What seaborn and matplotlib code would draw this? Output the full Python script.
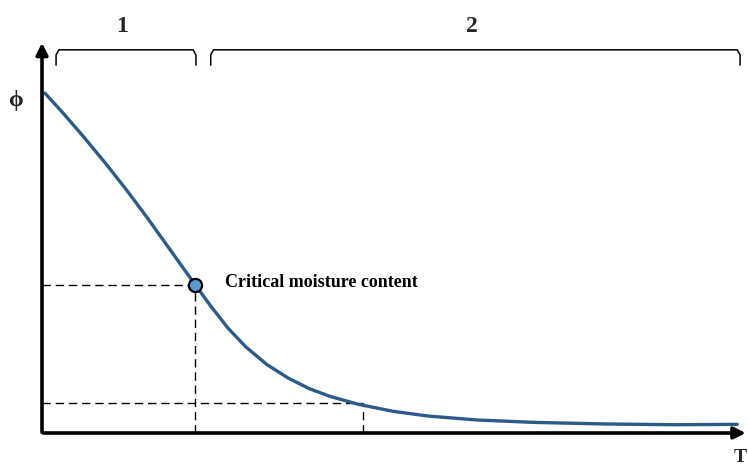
import matplotlib
matplotlib.use('Agg')
import matplotlib.pyplot as plt
import seaborn as sns
import pandas as pd

# drying curve (T in arbitrary units, phi from 0 to 1)
t_vals = [0.04, 0.30, 0.60, 0.90, 1.20, 1.50, 1.80, 2.18, 2.40, 2.65, 2.90, 3.20,
          3.50, 3.80, 4.10, 4.50, 5.00, 5.50, 6.20, 7.00, 8.00, 9.00, 9.89]
phi_vals = [0.865, 0.814, 0.752, 0.687, 0.619, 0.547, 0.472, 0.377, 0.323, 0.266,
            0.219, 0.174, 0.140, 0.113, 0.093, 0.073, 0.055, 0.043, 0.033, 0.027,
            0.023, 0.021, 0.022]

crit_t, crit_phi = 2.18, 0.377
low_t, low_phi = 4.57, 0.076

stage_labels = ['1', '2']
stage_ranges = [(0.20, 2.19), (2.40, 9.93)]

data = pd.DataFrame({'T': t_vals, 'phi': phi_vals})

sns.set_style('white')
plt.rcParams['font.family'] = ['Liberation Serif', 'DejaVu Serif']

fig = plt.figure(figsize=(7.48, 4.68), dpi=100)
ax = fig.add_axes([42 / 748, 35 / 468, 703 / 748, 393 / 468])
ax.set_xlim(0, 10)
ax.set_ylim(0, 1)
for s in ax.spines.values():
    s.set_visible(False)
ax.set_xticks([])
ax.set_yticks([])
ax.patch.set_alpha(0)

# dashed guide lines
dash = (0, (6, 3.5))
ax.plot([0, crit_t], [crit_phi, crit_phi], ls=dash, color='black', lw=1.0)
ax.plot([crit_t, crit_t], [0, crit_phi], ls=dash, color='black', lw=1.0)
ax.plot([0, low_t], [low_phi, low_phi], ls=dash, color='black', lw=1.0)
ax.plot([low_t, low_t], [0, low_phi], ls=dash, color='black', lw=1.0)

# curve
sns.lineplot(data=data, x='T', y='phi', ax=ax, color='#2b5b86', lw=2.4, zorder=3)
ax.scatter([crit_t], [crit_phi], s=90, color='#5b9bd5', edgecolor='black', lw=1.6, zorder=4)
ax.text(crit_t + 0.42, crit_phi + 0.005, 'Critical moisture content', fontsize=13,
        fontweight='bold', va='center', ha='left', color='black')

# axes with arrows
ax.annotate('', xy=(10.05, 0), xytext=(-0.02, 0), annotation_clip=False,
            arrowprops=dict(arrowstyle='-|>,head_length=0.7,head_width=0.35', color='black', lw=2.6))
ax.annotate('', xy=(0, 1.0), xytext=(0, -0.005), annotation_clip=False,
            arrowprops=dict(arrowstyle='-|>,head_length=0.7,head_width=0.35', color='black', lw=2.6))
ax.text(-0.38, 0.845, 'ϕ', fontsize=17, fontweight='bold', ha='center', va='center')
ax.text(9.93, -0.062, 'T', fontsize=14, fontweight='bold', ha='center', va='center')

# brackets for the drying stages
for lab, (x0, x1) in zip(stage_labels, stage_ranges):
    ax.plot([x0, x0, x0 + 0.04, x1 - 0.04, x1, x1], [0.936, 0.962, 0.975, 0.975, 0.962, 0.936],
            color='black', lw=1.1, clip_on=False)
    ax.text((x0 + x1) / 2 - 0.05, 1.035, lab, fontsize=17, fontweight='bold', ha='center', va='center')

fig.savefig('out.png', dpi=100)
